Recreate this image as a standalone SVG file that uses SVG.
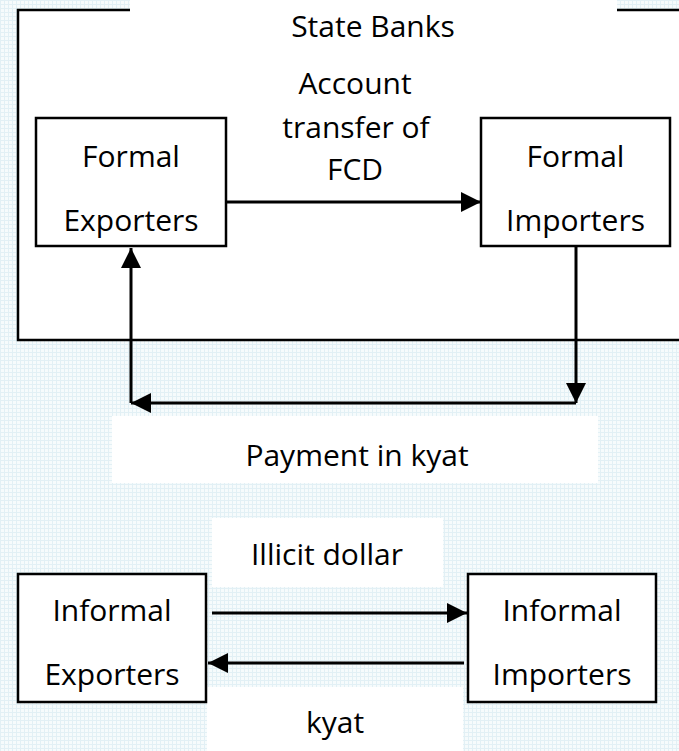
<svg xmlns="http://www.w3.org/2000/svg" width="679" height="751" viewBox="0 0 679 751">
<defs>
<pattern id="grid" width="4" height="4" patternUnits="userSpaceOnUse">
<rect width="4" height="4" fill="#f6fbfc"/>
<path d="M0,0.5 H4 M0.5,0 V4" stroke="#e2f0f5" stroke-width="1"/>
</pattern>
<marker id="ah" markerUnits="userSpaceOnUse" markerWidth="20" markerHeight="20" refX="20" refY="10" orient="auto">
<path d="M0,0 L20,10 L0,20 z" fill="#000"/>
</marker>
<style>
.box{fill:#fff;stroke:#000;stroke-width:2.5}
.t{font-family:"Open Sans","Noto Sans",sans-serif;font-size:30px;fill:#000;text-anchor:middle}
.c{fill:none;stroke:#000;stroke-width:3}
.bg{fill:#fff}
</style>
</defs>
<rect width="679" height="751" fill="url(#grid)"/>
<g id="state-banks">
<rect x="18" y="10" width="670" height="330" class="box"/>
<rect x="130" y="0" width="487" height="30" class="bg"/>
<text x="373" y="37" class="t">State Banks</text>
</g>
<g id="label-fcd">
<text x="355" y="94" class="t">Account</text>
<text x="356" y="138" class="t">transfer of</text>
<text x="355" y="180" class="t">FCD</text>
</g>
<g id="formal-exporters">
<rect x="36" y="118" width="190" height="128" class="box"/>
<text x="131" y="167" class="t">Formal</text>
<text x="131" y="231" class="t">Exporters</text>
</g>
<g id="formal-importers">
<rect x="481" y="118" width="189" height="128" class="box"/>
<text x="575.5" y="167" class="t">Formal</text>
<text x="575.5" y="231" class="t">Importers</text>
</g>
<g id="label-payment">
<rect x="112" y="416" width="486" height="67" class="bg"/>
<text x="357" y="466" class="t">Payment in kyat</text>
</g>
<g id="label-illicit">
<rect x="212" y="518" width="231" height="69" class="bg"/>
<text x="327" y="565" class="t">Illicit dollar</text>
</g>
<g id="label-kyat">
<rect x="207" y="687" width="256" height="64" class="bg"/>
<text x="335" y="733" class="t">kyat</text>
</g>
<g id="informal-exporters">
<rect x="18" y="574" width="188" height="128" class="box"/>
<text x="112" y="621" class="t">Informal</text>
<text x="112" y="685" class="t">Exporters</text>
</g>
<g id="informal-importers">
<rect x="468" y="574" width="188" height="128" class="box"/>
<text x="562" y="621" class="t">Informal</text>
<text x="562" y="685" class="t">Importers</text>
</g>
<g id="connectors">
<path d="M226,202 H481" class="c" marker-end="url(#ah)"/>
<path d="M576,246 V403" class="c" marker-end="url(#ah)"/>
<path d="M576,403 H131" class="c" marker-end="url(#ah)"/>
<path d="M131,403 V248" class="c" marker-end="url(#ah)"/>
<path d="M212,613 H467" class="c" marker-end="url(#ah)"/>
<path d="M464,663 H208" class="c" marker-end="url(#ah)"/>
</g>
</svg>
